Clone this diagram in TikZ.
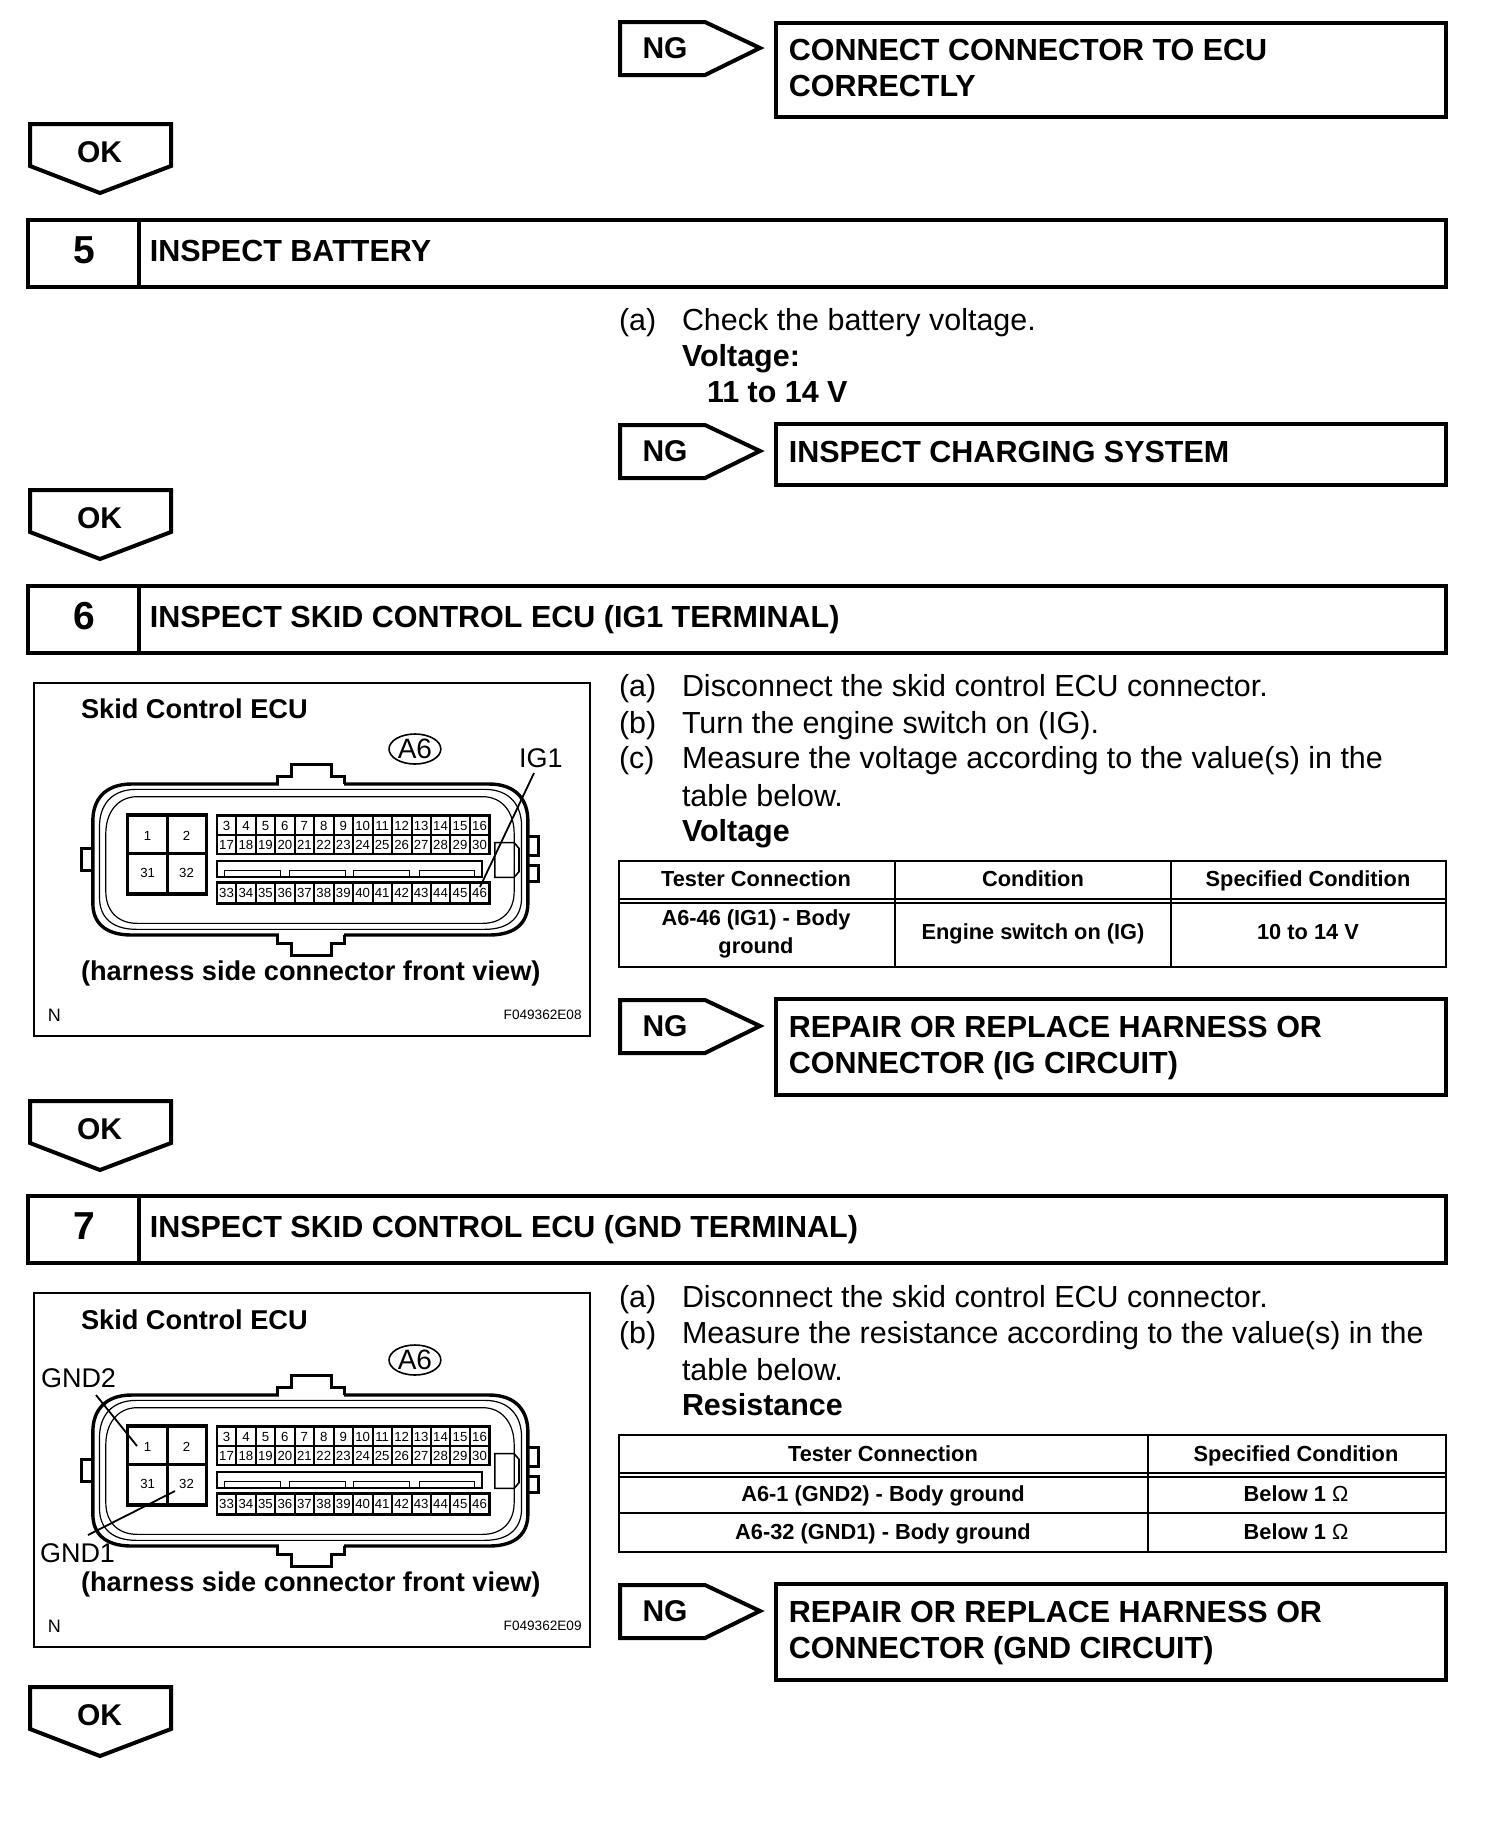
\documentclass[tikz,border=0pt]{standalone}
\usepackage{fontspec}
\setmainfont{Liberation Sans}
\newcommand\fsz[1]{\fontsize{#1}{#1}\selectfont}
\tikzset{
  heavy/.style={draw=black,line width=2pt,line join=miter},
  thinrule/.style={draw=black,line width=1.1pt},
  base/.style={inner sep=0pt,outer sep=0pt,anchor=base west},
  basec/.style={inner sep=0pt,outer sep=0pt,anchor=base},
  body/.style={base,font=\fsz{15.23}},
  bodyb/.style={base,font=\fsz{15.23}\bfseries},
  title/.style={base,font=\fsz{15.25}\bfseries,yshift=.2pt,xshift=.4pt},
  tagtext/.style={basec,font=\fsz{15}\bfseries},
  numtext/.style={basec,font=\fsz{19.5}\bfseries},
  cell/.style={basec,font=\fsz{10.9}\bfseries,yshift=.5pt},
  pinlab/.style={inner sep=0pt,font=\fsz{6.6}},
  panelb/.style={base,font=\fsz{13.6}\bfseries,yshift=-.3pt},
  panelr/.style={base,font=\fsz{13.5}},
}
\newcommand\ngtag[2]{%
  \draw[heavy] (620,#1) -- (705,#1) -- (760,#1+26) -- (705,#1+53) -- (620,#1+53) -- cycle;
  \node[tagtext] (ng#2) at (665,#1+36) {NG};
}
\newcommand\oktag[2]{%
  \draw[heavy] (30,#1) -- (171,#1) -- (171,#1+42) -- (100,#1+69) -- (30,#1+42) -- cycle;
  \node[tagtext] (ok#2) at (99.5,#1+38) {OK};
}
\newcommand\header[4]{%
  \draw[draw=black,line width=2.2pt] (28,#1) rectangle (1446,#1+67);
  \draw[draw=black,line width=2pt] (139,#1) -- (139,#1+67);
  \node[numtext] (num#2) at (84,#1+43) {#2};
  \node[title] (head#2) at (149,#1+42) {#3};
}
\newcommand\connector[2]{%
\begin{scope}[shift={(19.93,#1)},x=.1851pt,y=-.16667pt]
  % outline
  \foreach \l/\r/\t/\b/\cx/\wid in {197/1372/342/795/105/1.7pt,215/1355/358/778/100/.6pt,232/1335/380/760/85/.6pt}{
    \draw[line width=\wid] (\l+\cx,\t) -- (\r-\cx,\t)
      .. controls (\r-30,\t) and (\r,\t+50) .. (\r,\t+110)
      -- (\r,\b-95) .. controls (\r,\b-40) and (\r-30,\b) .. (\r-\cx,\b)
      -- (\l+\cx,\b) .. controls (\l+30,\b) and (\l,\b-40) .. (\l,\b-95)
      -- (\l,\t+110) .. controls (\l,\t+50) and (\l+30,\t) .. (\l+\cx,\t) -- cycle;
  }
  % tabs
  \begin{scope}[line width=1.5pt]
  \fill[white] (699,336) rectangle (876,348);
  \fill[white] (699,789) rectangle (876,801);
  \draw (697,342) -- (697,320) -- (733,320) -- (733,282) -- (842,282) -- (842,320) -- (878,320) -- (878,342);
  \draw (697,795) -- (697,820) -- (733,820) -- (733,855) -- (842,855) -- (842,820) -- (878,820) -- (878,795);
  \draw (197,535) -- (165,535) -- (165,600) -- (197,600);
  \draw (1372,500) -- (1400,500) -- (1400,555) -- (1375,555);
  \draw (1375,585) -- (1400,585) -- (1400,635) -- (1372,635);
  \end{scope}
  \draw[line width=.8pt] (1283,518) -- (1335,518) -- (1348,535) -- (1348,605) -- (1335,622) -- (1283,622) -- cycle;
  % big cells
  \draw[line width=1.6pt] (290,435) rectangle (505,672) (398,435) -- (398,672) (290,550) -- (505,550);
  \node[pinlab] (#2a) at (345,497) {1};
  \node[pinlab] (#2b) at (450,497) {2};
  \node[pinlab] (#2c) at (345,610) {31};
  \node[pinlab] (#2d) at (450,610) {32};
  % pin rows
  \draw[line width=1.3pt] (532,437) rectangle (1268,552) (532,495) -- (1268,495);
  \draw[line width=1.3pt] (532,638) rectangle (1268,700);
  \foreach \i in {1,...,13}{
    \draw[line width=1pt] (532+\i*52.57,437) -- (532+\i*52.57,552);
    \draw[line width=1pt] (532+\i*52.57,638) -- (532+\i*52.57,700);
  }
  \foreach \i in {0,...,13}{
    \pgfmathtruncatemacro\na{\i+3}
    \pgfmathtruncatemacro\nb{\i+17}
    \pgfmathtruncatemacro\nc{\i+33}
    \node[pinlab] (#2p\na) at (558+\i*52.57,467) {\na};
    \node[pinlab] (#2p\nb) at (558+\i*52.57,524) {\nb};
    \node[pinlab] (#2p\nc) at (558+\i*52.57,670) {\nc};
  }
  % middle bar
  \draw[line width=.9pt] (532,572) rectangle (1248,622);
  \foreach \a/\c in {553/705,728/880,902/1053,1078/1228}{
    \draw[line width=.5pt] (\a,622) -- (\a,600) -- (\c,600) -- (\c,622);
  }
  \draw[line width=.8pt] (1067,237) ellipse [x radius=70,y radius=45];
  \node[inner sep=0pt,font=\fsz{14}] (#2a6) at (1067,237) {A6};
  \node[panelb] (#2title) at (165,143) {Skid Control ECU};
  \node[panelb] (#2view) at (165,930) {(harness side connector front view)};
  \node[inner sep=0pt,font=\fsz{9}] (#2n) at (93,1037) {N};
\end{scope}
}
\begin{document}
\begin{tikzpicture}[x=.5pt,y=-.5pt]
\useasboundingbox (0,0) rectangle (1504,1828);
\fill[white] (0,0) rectangle (1504,1828);

% ---- top
\ngtag{22}{a}
\draw[heavy] (776,23) rectangle (1446,117);
\node[title] (fix1a) at (788,61) {CONNECT CONNECTOR TO ECU};
\node[title] (fix1b) at (788,97) {CORRECTLY};
\oktag{124}{a}

% ---- step 5
\header{220}{5}{INSPECT BATTERY}{}
\node[body] (s5a) at (619,330) {(a)};
\node[body] (s5at) at (682,330) {Check the battery voltage.};
\node[bodyb] (s5v) at (682,366) {Voltage:};
\node[bodyb] (s5r) at (707,402) {11 to 14 V};
\ngtag{425}{b}
\draw[heavy] (776,424) rectangle (1446,485);
\node[title] (fix2) at (788,463) {INSPECT CHARGING SYSTEM};
\oktag{490}{b}

% ---- step 6
\header{586}{6}{INSPECT SKID CONTROL ECU (IG1 TERMINAL)}{}
\draw[thinrule] (34,683) rectangle (590,1036);
\connector{670}{u}
\node[panelr] (ig1) at (519,767) {IG1};
\coordinate (ig1s) at (534,773);
\coordinate (ig1e) at (480,887);
\draw[line width=.9pt] (ig1s) -- (ig1e);
\node[inner sep=0pt,anchor=east,font=\fsz{6.8}] (fig1) at (582,1015) {F049362E08};

\node[body] (s6a) at (619,696) {(a)};
\node[body] (s6at) at (682,696) {Disconnect the skid control ECU connector.};
\node[body] (s6b) at (619,733) {(b)};
\node[body] (s6bt) at (682,733) {Turn the engine switch on (IG).};
\node[body] (s6c) at (619,768) {(c)};
\node[body] (s6ct) at (682,768) {Measure the voltage according to the value(s) in the};
\node[body] (s6cu) at (682,806) {table below.};
\node[bodyb] (s6v) at (682,841) {Voltage};

\draw[thinrule] (619,861) rectangle (1446,967);
\draw[thinrule] (895,861) -- (895,967) (1171,861) -- (1171,967);
\draw[thinrule] (619,899) -- (1446,899) (619,903) -- (1446,903);
\node[cell] (t1a) at (756,887) {Tester Connection};
\node[cell] (t1b) at (1033,887) {Condition};
\node[cell] (t1c) at (1308,887) {Specified Condition};
\node[cell] (t1d) at (756,926) {A6-46 (IG1) - Body};
\node[cell] (t1e) at (756,954) {ground};
\node[cell] (t1f) at (1033,940) {Engine switch on (IG)};
\node[cell] (t1g) at (1308,940) {10 to 14 V};

\ngtag{1000}{c}
\draw[heavy] (776,999) rectangle (1446,1095);
\node[title] (fix3a) at (788,1038) {REPAIR OR REPLACE HARNESS OR};
\node[title] (fix3b) at (788,1074) {CONNECTOR (IG CIRCUIT)};
\oktag{1101}{c}

% ---- step 7
\header{1196}{7}{INSPECT SKID CONTROL ECU (GND TERMINAL)}{}
\draw[thinrule] (34,1293) rectangle (590,1647);
\connector{1281}{v}
\node[panelr] (gnd2) at (41,1387) {GND2};
\node[panelr] (gnd1) at (40,1562) {GND1};
\coordinate (g2s) at (96,1395);
\coordinate (g2e) at (137,1446);
\coordinate (g1s) at (88,1535);
\coordinate (g1e) at (175,1491);
\draw[line width=.9pt] (g2s) -- (g2e);
\draw[line width=.9pt] (g1s) -- (g1e);
\node[inner sep=0pt,anchor=east,font=\fsz{6.8}] (fig2) at (582,1626) {F049362E09};

\node[body] (s7a) at (619,1307) {(a)};
\node[body] (s7at) at (682,1307) {Disconnect the skid control ECU connector.};
\node[body] (s7b) at (619,1343) {(b)};
\node[body] (s7bt) at (682,1343) {Measure the resistance according to the value(s) in the};
\node[body] (s7bu) at (682,1380) {table below.};
\node[bodyb] (s7r) at (682,1415) {Resistance};

\draw[thinrule] (619,1435) rectangle (1446,1552);
\draw[thinrule] (1148,1435) -- (1148,1552);
\draw[thinrule] (619,1473) -- (1446,1473) (619,1477) -- (1446,1477) (619,1513) -- (1446,1513);
\node[cell] (t2a) at (883,1462) {Tester Connection};
\node[cell] (t2b) at (1296,1462) {Specified Condition};
\node[cell] (t2c) at (883,1502) {A6-1 (GND2) - Body ground};
\node[cell] (t2d) at (1296,1502) {Below 1 {\normalfont Ω}};
\node[cell] (t2e) at (883,1540) {A6-32 (GND1) - Body ground};
\node[cell] (t2f) at (1296,1540) {Below 1 {\normalfont Ω}};

\ngtag{1585}{d}
\draw[heavy] (776,1584) rectangle (1446,1680);
\node[title] (fix4a) at (788,1623) {REPAIR OR REPLACE HARNESS OR};
\node[title] (fix4b) at (788,1659) {CONNECTOR (GND CIRCUIT)};
\oktag{1687}{d}
\end{tikzpicture}
\end{document}
